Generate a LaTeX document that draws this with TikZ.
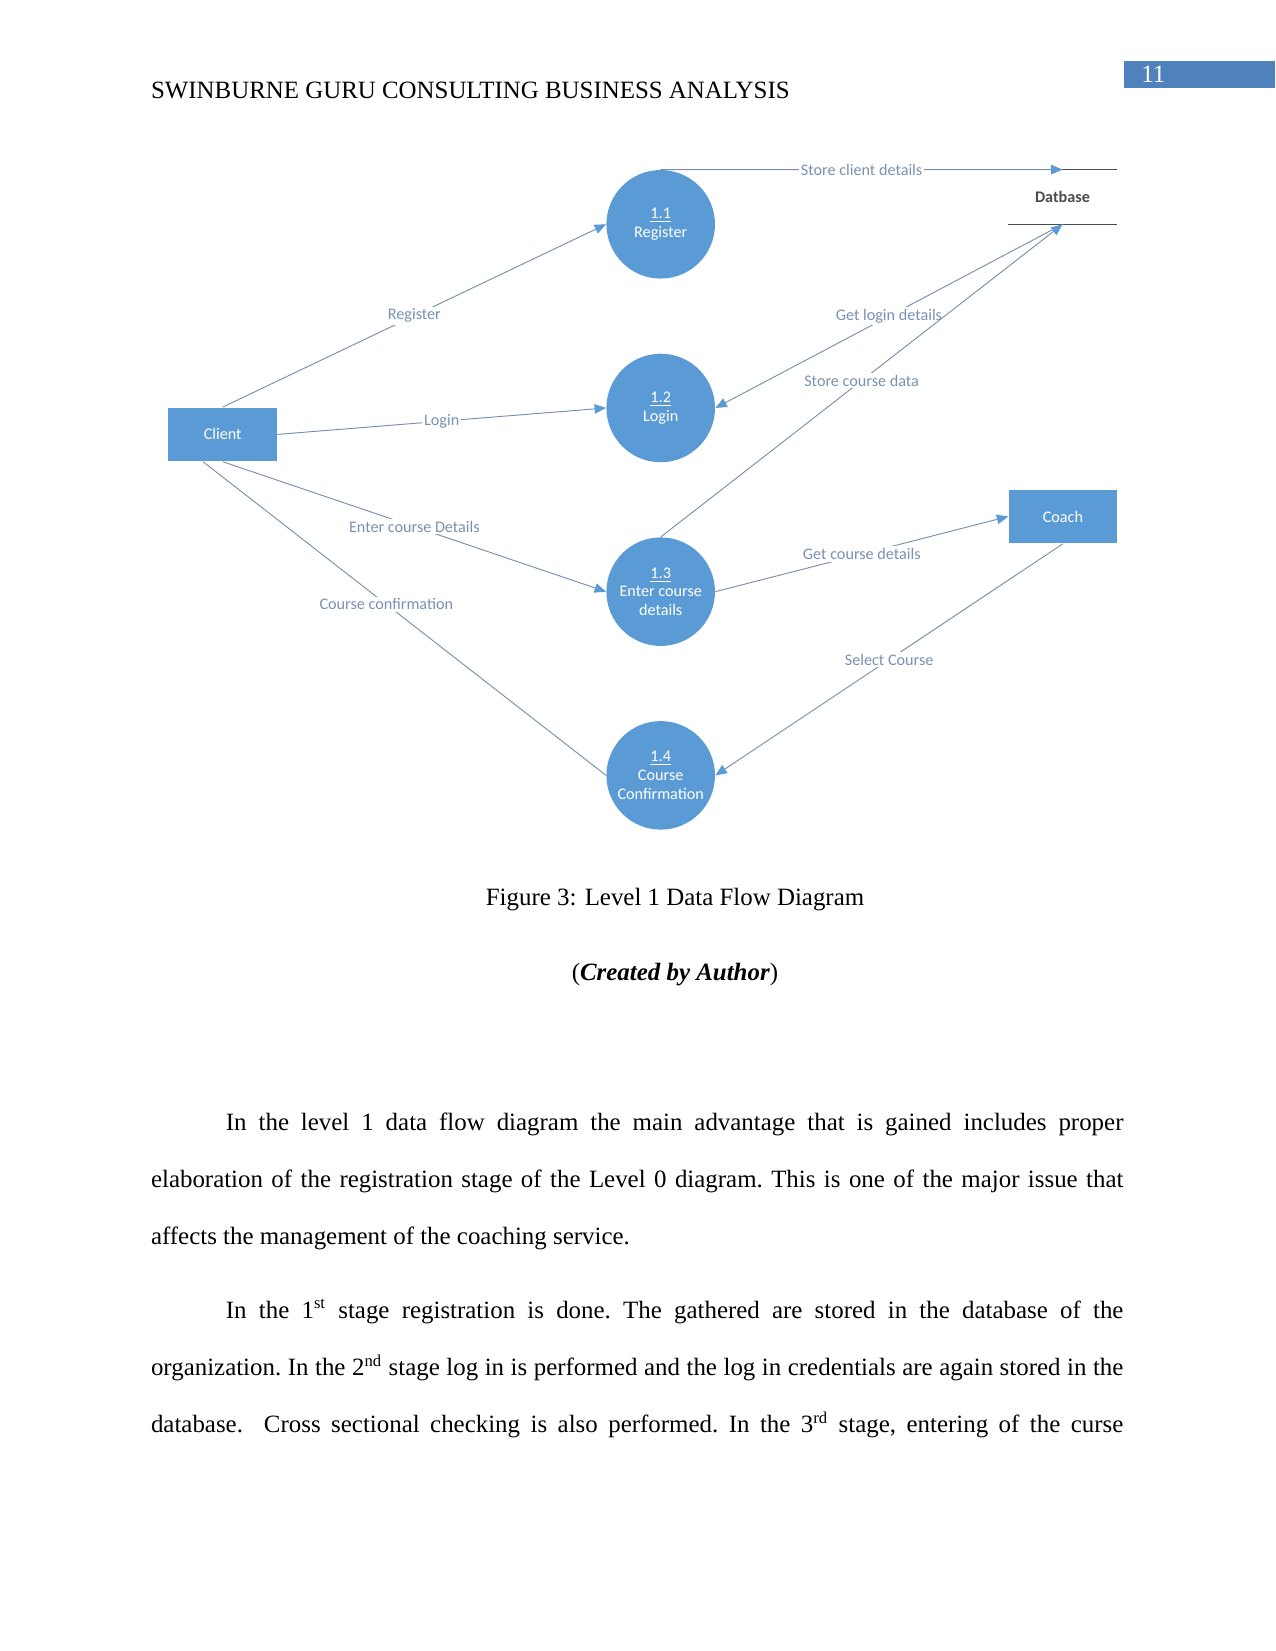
\documentclass[tikz,border=0pt]{standalone}
\usepackage{fontspec}
\setmainfont{Liberation Serif}
\newfontfamily\dfdfont{Carlito}
\usetikzlibrary{arrows.meta, positioning}

\definecolor{dfdblue}{RGB}{91,155,213}
\definecolor{pageblue}{RGB}{79,129,189}
\definecolor{flowline}{RGB}{120,142,172}
\definecolor{flowtext}{RGB}{122,146,178}
\definecolor{storegray}{RGB}{75,75,75}

\tikzset{
    dfdtext/.style={font=\dfdfont\fontsize{7.8}{9}\selectfont},
    process/.style={circle, fill=dfdblue, minimum size=52.3pt, inner sep=0pt, text=white, align=center, dfdtext},
    entity/.style={rectangle, fill=dfdblue, minimum width=52.3pt, minimum height=25.9pt, text=white, dfdtext},
    datastore/.style={rectangle, minimum width=52.5pt, minimum height=26pt, text=storegray, font=\dfdfont\bfseries\fontsize{7.8}{9}\selectfont},
    flow/.style={draw=flowline, line width=0.45pt, -{Triangle[length=5.5pt, width=4.6pt, color=dfdblue]}},
    flowplain/.style={draw=flowline, line width=0.45pt},
    flowlabel/.style={fill=white, text=flowtext, inner sep=1pt, dfdtext},
    bodytext/.style={anchor=base west, inner sep=0pt, text width=468.5pt, align=justify, font=\fontsize{12}{27.5}\selectfont}
}

\begin{document}
\begin{tikzpicture}[x=0.4818pt, y=-0.4818pt]
    % Page size in pixels of the scanned page
    \useasboundingbox (0,0) rectangle (1275,1651);

    % Running head and page number box
    \node[anchor=base west, inner sep=0pt, font=\fontsize{12}{14}\selectfont] (head) at (150.6,99) {SWINBURNE GURU CONSULTING BUSINESS ANALYSIS};
    \fill[pageblue] (1124,61) rectangle (1275,88.5);
    \node[anchor=base west, inner sep=0pt, text=white, font=\fontsize{12}{14}\selectfont] (pagenum) at (1141,83) {11};

    % The four processes, stacked under each other
    \node[process] (r11) at (660.7,224.3) {\underline{1.1}\\Register};
    \node[process, below=35.8pt of r11] (r12) {\underline{1.2}\\Login};
    \node[process, below=35.8pt of r12] (r13) {\underline{1.3}\\Enter course\\details};
    \node[process, below=35.8pt of r13] (r14) {\underline{1.4}\\Course\\Confirmation};

    % External entities
    \node[entity] (client) at (222.7,434.4) {Client};
    \node[entity] (coach) at (1062.9,516.5) {Coach};

    % Data store, open on both sides
    \node[datastore] (db) at (1062.5,197) {Datbase};
    \draw[storegray, line width=0.6pt] (db.north west) -- (db.north east);
    \draw[storegray, line width=0.6pt] (db.south west) -- (db.south east);

    % Flows from the client
    \draw[flow] (client.north) -- node[flowlabel] (lreg) {Register} (r11.west);
    \draw[flow] (client.east) -- node[flowlabel] (llog) {Login} (r12.west);
    \draw[flow] (client.south) -- node[flowlabel] (lenter) {Enter course Details} (r13.west);
    \draw[flowplain] ([xshift=-9.5pt]client.south) -- node[flowlabel, pos=0.455] (lconf) {Course confirmation} (r14.west);

    % Flows to and from the data store
    \draw[flow] (r11.north) -- node[flowlabel] (lstore) {Store client details} (db.north);
    \draw[flow] (db.south) -- node[flowlabel] (lget) {Get login details} (r12.east);
    \draw[flow] (r13.north) -- node[flowlabel] (lcourse) {Store course data} (db.south);

    % Flows to and from the coach
    \draw[flow] (r13.east) -- node[flowlabel] (lcdet) {Get course details} (coach.west);
    \draw[flow] (coach.south) -- node[flowlabel] (lsel) {Select Course} (r14.east);

    % Caption
    \node[anchor=base, inner sep=0pt, font=\fontsize{12}{14}\selectfont] (caption) at (675,905) {Figure 3: Level 1 Data Flow Diagram};
    \node[anchor=base, inner sep=0pt, font=\fontsize{12}{14}\selectfont] (credit) at (675,980) {(\textbf{\textit{Created by Author}})};

    % Body text, two paragraphs, lines broken as on the page
    \node[bodytext] (para1) at (150.6,1130) {\frenchspacing\tolerance=9999\spaceskip=0.25em plus 1em minus 0.13em\hspace*{36.1pt}In the level 1 data flow diagram the main advantage that is gained includes proper\linebreak elaboration of the registration stage of the Level 0 diagram. This is one of the major issue that\linebreak affects the management of the coaching service.};
    \node[bodytext] (para2) at (150.6,1318) {\frenchspacing\tolerance=9999\spaceskip=0.25em plus 1em minus 0.13em\hspace*{36.1pt}In the 1\textsuperscript{st} stage registration is done. The gathered are stored in the database of the\linebreak organization. In the 2\textsuperscript{nd} stage log in is performed and the log in credentials are again stored in the\linebreak database.\ \ Cross sectional checking is also performed. In the 3\textsuperscript{rd} stage, entering of the curse\parfillskip=0pt\par};
\end{tikzpicture}
\end{document}
